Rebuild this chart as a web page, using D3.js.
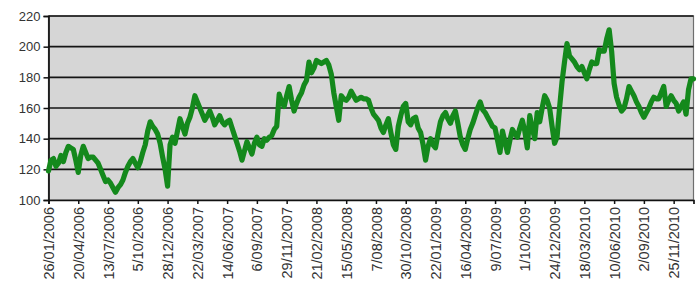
<!DOCTYPE html>
<html>
<head>
<meta charset="utf-8">
<script src="https://cdn.jsdelivr.net/npm/d3@7"></script>
<style>
  html, body { margin: 0; padding: 0; background: #ffffff; }
  svg { display: block; }
</style>
</head>
<body>
<svg id="chart" width="699" height="293"></svg>
<script>
// ---- data ----
const startDate = "26/01/2006";   // first weekly observation
const stepDays = 7;                // weekly series
const values = [
  119,126,127,122,124,129,125,131,135,134,
  133,126,118,129,135,131,127,128,128,126,
  124,120,116,112,113,111,108,105,108,110,
  113,118,122,125,127,124,121,125,131,136,
  145,151,148,146,143,137,128,120,109,136,
  141,137,145,153,148,143,150,154,160,168,
  164,160,156,152,155,158,154,149,152,155,
  151,149,151,152,147,142,137,132,126,132,
  138,134,130,137,141,136,135,140,139,141,
  142,146,148,169,164,161,168,174,165,158,
  163,167,170,175,178,190,183,186,191,190,
  189,190,191,188,182,170,161,152,168,166,
  165,167,171,168,165,166,167,166,166,165,
  160,156,154,152,147,144,149,153,144,136,
  133,148,155,161,163,151,149,153,154,147,
  144,136,126,135,140,136,134,143,151,155,
  157,153,150,155,158,150,141,136,133,140,
  146,150,155,160,164,159,157,154,151,148,
  147,139,131,145,138,131,139,146,143,141,
  147,152,145,134,155,147,140,157,151,160,
  168,165,160,148,137,141,160,177,190,202,
  194,192,190,187,185,187,183,179,185,190,
  189,189,198,197,197,205,211,197,176,167,
  162,158,160,166,174,171,168,164,161,157,
  154,157,160,164,167,166,166,170,174,161,
  165,168,165,163,158,161,164,156,172,179,
  179
];
const tickLabels = [
  "26/01/2006","20/04/2006","13/07/2006","5/10/2006","28/12/2006",
  "22/03/2007","14/06/2007","6/09/2007","29/11/2007","21/02/2008",
  "15/05/2008","7/08/2008","30/10/2008","22/01/2009","16/04/2009",
  "9/07/2009","1/10/2009","24/12/2009","18/03/2010","10/06/2010",
  "2/09/2010","25/11/2010"
];
const yTicks = [100, 120, 140, 160, 180, 200, 220];

// ---- helpers ----
const parse = d3.timeParse("%d/%m/%Y");
const t0 = parse(startDate);
const series = values.map((v, i) => ({ date: d3.timeDay.offset(t0, i * stepDays), value: v }));
const tickDates = tickLabels.map(s => parse(s));

// ---- layout ----
const svg = d3.select("#chart");
const m = { left: 48.5, right: 693.5, top: 16, bottom: 200 };

const x = d3.scaleTime()
  .domain([series[0].date, series[series.length - 1].date])
  .range([m.left, m.right]);
const y = d3.scaleLinear().domain([100, 220]).range([m.bottom, m.top]);

// plot background
svg.append("rect")
  .attr("x", m.left).attr("y", m.top)
  .attr("width", m.right - m.left).attr("height", m.bottom - m.top)
  .attr("fill", "#d6d6d6")
  .attr("stroke", "#6e6e6e").attr("stroke-width", 1.2);

// gridlines
svg.append("g")
  .selectAll("line").data(yTicks.filter(d => d > 100))
  .join("line")
  .attr("x1", m.left).attr("x2", m.right)
  .attr("y1", d => y(d)).attr("y2", d => y(d))
  .attr("stroke", "#151515").attr("stroke-width", 1.7);

// y axis
const yAxis = svg.append("g")
  .attr("transform", `translate(${m.left},0)`)
  .call(d3.axisLeft(y).tickValues(yTicks).tickSize(5).tickPadding(3).tickFormat(d3.format("d")));
yAxis.select(".domain").attr("stroke", "#111").attr("stroke-width", 1.7);
yAxis.selectAll(".tick line").attr("stroke", "#111").attr("stroke-width", 1.5);
yAxis.selectAll("text")
  .attr("fill", "#333")
  .style("font-family", "'Liberation Sans', Arial, sans-serif")
  .style("font-size", "13px");

// x axis
const fmt = d3.timeFormat("%-d/%m/%Y");
const xAxis = svg.append("g")
  .attr("transform", `translate(0,${m.bottom})`)
  .call(d3.axisBottom(x).tickValues(tickDates).tickSize(4).tickFormat(fmt));
xAxis.select(".domain").attr("stroke", "#111").attr("stroke-width", 1.7);
xAxis.selectAll(".tick line").attr("stroke", "#111").attr("stroke-width", 1.5);
xAxis.selectAll("text")
  .attr("fill", "#333")
  .style("font-family", "'Liberation Sans', Arial, sans-serif")
  .style("font-size", "14.5px")
  .attr("text-anchor", "end")
  .attr("dy", "0.35em")
  .attr("transform", "translate(0,7) rotate(-90)")
  .attr("x", 0).attr("y", 0);

// line
const line = d3.line()
  .x(d => x(d.date))
  .y(d => y(d.value));
svg.append("path")
  .datum(series)
  .attr("d", line)
  .attr("fill", "none")
  .attr("stroke", "#14891c")
  .attr("stroke-width", 5.2)
  .attr("stroke-linejoin", "round")
  .attr("stroke-linecap", "round");
</script>
</body>
</html>
